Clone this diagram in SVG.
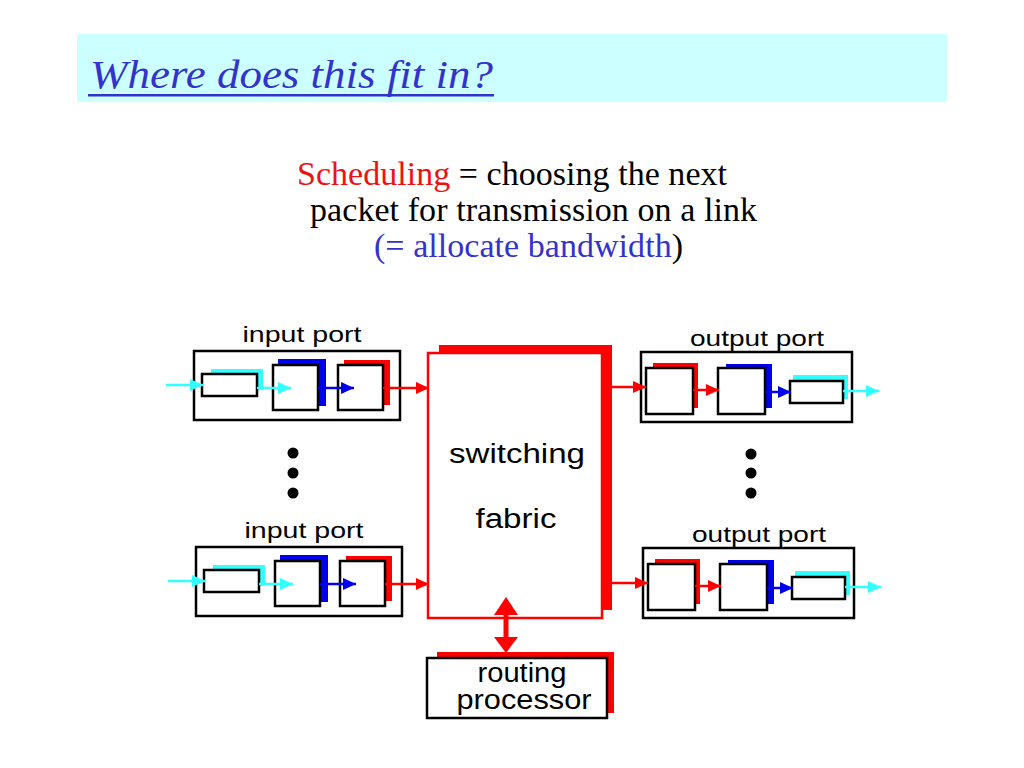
<svg xmlns="http://www.w3.org/2000/svg" width="1024" height="768" viewBox="0 0 1024 768">
<defs>
<style>
.box{fill:#fff;stroke:#000;stroke-width:2.5}
.lbl{font-family:"Liberation Sans",Arial,sans-serif;font-size:22px;fill:#000;text-anchor:middle}
.big{font-family:"Liberation Sans",Arial,sans-serif;font-size:27px;fill:#000;text-anchor:middle}
.sub{font-family:"Liberation Serif","Times New Roman",serif;font-size:34px;fill:#000}
.cy{fill:#33ffff}.bl{fill:#0000ee}.rd{fill:#ff0000}
.lc{stroke:#33ffff;stroke-width:2.5;fill:none;marker-end:url(#ac)}
.lb{stroke:#0000ee;stroke-width:2.5;fill:none;marker-end:url(#ab)}
.lr{stroke:#ff0000;stroke-width:2.5;fill:none;marker-end:url(#ar)}
</style>
<marker id="ac" markerUnits="userSpaceOnUse" markerWidth="14" markerHeight="14" refX="13" refY="7" orient="auto"><path d="M0,1 L13,7 L0,13 z" fill="#33ffff"/></marker>
<marker id="ab" markerUnits="userSpaceOnUse" markerWidth="14" markerHeight="14" refX="13" refY="7" orient="auto"><path d="M0,1 L13,7 L0,13 z" fill="#0000ee"/></marker>
<marker id="ar" markerUnits="userSpaceOnUse" markerWidth="14" markerHeight="14" refX="13" refY="7" orient="auto"><path d="M0,1 L13,7 L0,13 z" fill="#ff0000"/></marker>
</defs>
<rect width="1024" height="768" fill="#fff"/>
<g id="title">
<rect x="77" y="34" width="870" height="68" fill="#ccffff"/>
<text x="90" y="88" font-family="'Liberation Serif','Times New Roman',serif" font-style="italic" font-size="40" fill="#3333cc" textLength="403" lengthAdjust="spacingAndGlyphs">Where does this fit in?</text>
<rect x="88" y="94" width="406" height="2.5" fill="#3333cc"/>
</g>
<g id="subtitle">
<text class="sub" x="297" y="185" textLength="430"><tspan fill="#ee1111">Scheduling</tspan> = choosing the next</text>
<text class="sub" x="310" y="221" textLength="447">packet for transmission on a link</text>
<text class="sub" x="374" y="257" textLength="309"><tspan fill="#3333cc">(= allocate bandwidth</tspan>)</text>
</g>
<g id="input-port-1">
<text class="lbl" x="302" y="342" textLength="119" lengthAdjust="spacingAndGlyphs">input port</text>
<rect class="box" x="194" y="351" width="206" height="69"/>
<rect class="cy" x="211" y="369" width="52" height="21"/>
<rect class="box" x="202" y="374" width="55" height="22"/>
<rect class="bl" x="278" y="359" width="48" height="47"/>
<rect class="box" x="273" y="365" width="45" height="45"/>
<rect class="rd" x="344" y="360" width="46" height="45"/>
<rect class="box" x="338" y="365" width="45" height="45"/>
</g>
<g id="input-port-2" transform="translate(2,196)">
<text class="lbl" x="302" y="342" textLength="119" lengthAdjust="spacingAndGlyphs">input port</text>
<rect class="box" x="194" y="351" width="206" height="69"/>
<rect class="cy" x="211" y="369" width="52" height="21"/>
<rect class="box" x="202" y="374" width="55" height="22"/>
<rect class="bl" x="278" y="359" width="48" height="47"/>
<rect class="box" x="273" y="365" width="45" height="45"/>
<rect class="rd" x="344" y="360" width="46" height="45"/>
<rect class="box" x="338" y="365" width="45" height="45"/>
</g>
<g id="switching-fabric">
<rect class="rd" x="439" y="345" width="173" height="265"/>
<rect x="428" y="353" width="174" height="265" fill="#fff" stroke="#ff0000" stroke-width="2.5"/>
<text class="big" x="517" y="463" textLength="136" lengthAdjust="spacingAndGlyphs">switching</text>
<text class="big" x="516" y="528" textLength="81" lengthAdjust="spacingAndGlyphs">fabric</text>
</g>
<g id="output-port-1">
<text class="lbl" x="757" y="346" textLength="134" lengthAdjust="spacingAndGlyphs">output port</text>
<rect class="box" x="641" y="352" width="211" height="70"/>
<rect class="rd" x="653" y="363" width="45" height="45"/>
<rect class="box" x="646" y="368" width="47" height="46"/>
<rect class="bl" x="726" y="364" width="46" height="44"/>
<rect class="box" x="718" y="368" width="47" height="46"/>
<rect class="cy" x="793" y="375" width="55" height="24"/>
<rect class="box" x="790" y="381" width="53" height="22"/>
</g>
<g id="output-port-2" transform="translate(2,196)">
<text class="lbl" x="757" y="346" textLength="134" lengthAdjust="spacingAndGlyphs">output port</text>
<rect class="box" x="641" y="352" width="211" height="70"/>
<rect class="rd" x="653" y="363" width="45" height="45"/>
<rect class="box" x="646" y="368" width="47" height="46"/>
<rect class="bl" x="726" y="364" width="46" height="44"/>
<rect class="box" x="718" y="368" width="47" height="46"/>
<rect class="cy" x="793" y="375" width="55" height="24"/>
<rect class="box" x="790" y="381" width="53" height="22"/>
</g>
<g id="routing-processor">
<rect class="rd" x="437" y="652" width="177" height="61"/>
<rect class="box" x="427" y="658" width="180" height="60"/>
<text class="big" x="522" y="682" font-size="22" textLength="89" lengthAdjust="spacingAndGlyphs">routing</text>
<text class="big" x="524" y="709" font-size="22" textLength="135" lengthAdjust="spacingAndGlyphs">processor</text>
</g>
<g id="dots">
<circle cx="293" cy="453" r="5.5"/><circle cx="293" cy="473" r="5.5"/><circle cx="293" cy="493" r="5.5"/>
<circle cx="751" cy="454" r="5.5"/><circle cx="751" cy="473" r="5.5"/><circle cx="751" cy="493" r="5.5"/>
</g>
<g id="connectors">
<line class="lc" x1="166" y1="385" x2="203" y2="385"/>
<line class="lc" x1="257" y1="388" x2="291" y2="388"/>
<line class="lb" x1="318" y1="388" x2="354" y2="388"/>
<line class="lr" x1="383" y1="388" x2="429" y2="388"/>
<line class="lc" x1="168" y1="581" x2="205" y2="581"/>
<line class="lc" x1="259" y1="584" x2="293" y2="584"/>
<line class="lb" x1="320" y1="584" x2="356" y2="584"/>
<line class="lr" x1="385" y1="584" x2="429" y2="584"/>
<line class="lr" x1="612" y1="387" x2="646" y2="387"/>
<line class="lr" x1="693" y1="390" x2="719" y2="390"/>
<line class="lb" x1="765" y1="392" x2="791" y2="392"/>
<line class="lc" x1="843" y1="391" x2="879" y2="391"/>
<line class="lr" x1="612" y1="583" x2="648" y2="583"/>
<line class="lr" x1="695" y1="586" x2="721" y2="586"/>
<line class="lb" x1="767" y1="588" x2="793" y2="588"/>
<line class="lc" x1="845" y1="587" x2="881" y2="587"/>
<line x1="506" y1="612" x2="506" y2="640" stroke="#ff0000" stroke-width="5"/>
<polygon points="506,597 518,615 494,615" fill="#ff0000"/>
<polygon points="506,653 518,637 494,637" fill="#ff0000"/>
</g>
</svg>
